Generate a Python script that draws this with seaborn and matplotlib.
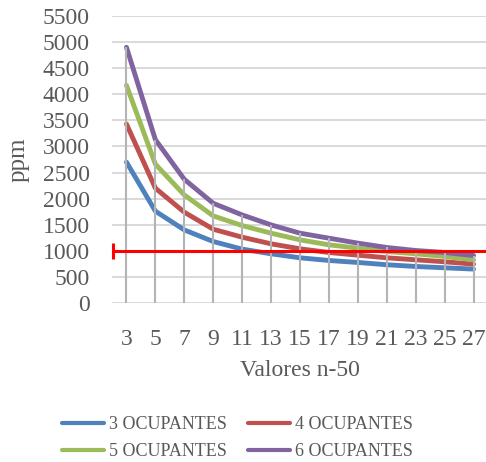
import numpy as np
import pandas as pd
import matplotlib
matplotlib.use("Agg")
import matplotlib.pyplot as plt
import seaborn as sns

# Ventilation values (x axis) and CO2 concentration per number of occupants
n_values = [3, 5, 7, 9, 11, 13, 15, 17, 19, 21, 23, 25, 27]
occ_3 = [2700, 1760, 1400, 1178, 1032, 943, 866, 815, 777, 733, 700, 675, 650]
occ_4 = [3430, 2200, 1740, 1414, 1261, 1134, 1038, 968, 917, 866, 828, 790, 745]
occ_5 = [4170, 2660, 2070, 1669, 1484, 1338, 1210, 1115, 1051, 987, 943, 892, 828]
occ_6 = [4900, 3130, 2370, 1911, 1688, 1497, 1338, 1242, 1147, 1064, 1006, 968, 910]
series_names = ["3 OCUPANTES", "4 OCUPANTES", "5 OCUPANTES", "6 OCUPANTES"]
y_ticks = list(range(0, 5501, 500))
limit_ppm = 1000

colors = ["#4F81BD", "#C0504D", "#9BBB59", "#8064A2"]
text_color = "#595959"

sns.set_style("white")
plt.rcParams["font.family"] = ["Liberation Serif", "DejaVu Serif"]

frames = []
for name, vals in zip(series_names, [occ_3, occ_4, occ_5, occ_6]):
    frames.append(pd.DataFrame({"n": n_values, "ppm": vals, "serie": name}))
df = pd.concat(frames, ignore_index=True)

W, H = 486, 462
fig = plt.figure(figsize=(W / 100, H / 100), dpi=100)
ax = fig.add_axes([112 / W, 1 - 303 / H, 376 / W, 287 / H])

sns.lineplot(data=df, x="n", y="ppm", hue="serie", palette=colors,
             linewidth=3.5, ax=ax, solid_capstyle="round",
             solid_joinstyle="round", zorder=2)

# drop lines from the highest series down to the category axis
tops = np.max(np.array([occ_3, occ_4, occ_5, occ_6]), axis=0)
ax.vlines(n_values, 0, tops, colors="#B4B4B4", linewidth=1.5, zorder=3)

# limit line at 1000 ppm
ax.axhline(limit_ppm, color="#FF0000", linewidth=2.2, zorder=5)
ax.plot([2.05], [limit_ppm], marker="|", markersize=12, mew=2.2,
        color="#FF0000", clip_on=False, zorder=5)

ax.set_xlim(2, 28)
ax.set_ylim(0, 5500)
ax.set_xticks(n_values)
ax.set_xticklabels([str(v) for v in n_values])
ax.set_yticks(y_ticks)
ax.grid(axis="y", color="#D9D9D9", linewidth=1.4, zorder=0)
ax.grid(axis="x", visible=False)
ax.set_axisbelow(True)
for s in ax.spines.values():
    s.set_visible(False)
ax.tick_params(axis="both", length=0, labelsize=17, colors=text_color)
ax.tick_params(axis="y", pad=16)
ax.tick_params(axis="x", pad=18.5)

ax.set_xlabel("Valores n-50", fontsize=17, color=text_color)
ax.set_ylabel("ppm", fontsize=18, color=text_color)
ax.xaxis.set_label_coords(0.5, -0.2)
ax.yaxis.set_label_coords(-0.22, 0.5)

handles, labels = ax.get_legend_handles_labels()
ax.get_legend().remove()
order = [0, 2, 1, 3]
leg = fig.legend([handles[i] for i in order], [labels[i] for i in order],
                 ncol=2, loc="upper left", bbox_to_anchor=(62 / W, 1 - 416 / H),
                 frameon=False, fontsize=13, handlelength=2.3,
                 handletextpad=0.3, columnspacing=1.2, labelspacing=0.55,
                 borderpad=0, borderaxespad=0)
for t in leg.get_texts():
    t.set_color(text_color)
for h in leg.legend_handles:
    h.set_linewidth(3)

fig.savefig("out.png", dpi=100)
